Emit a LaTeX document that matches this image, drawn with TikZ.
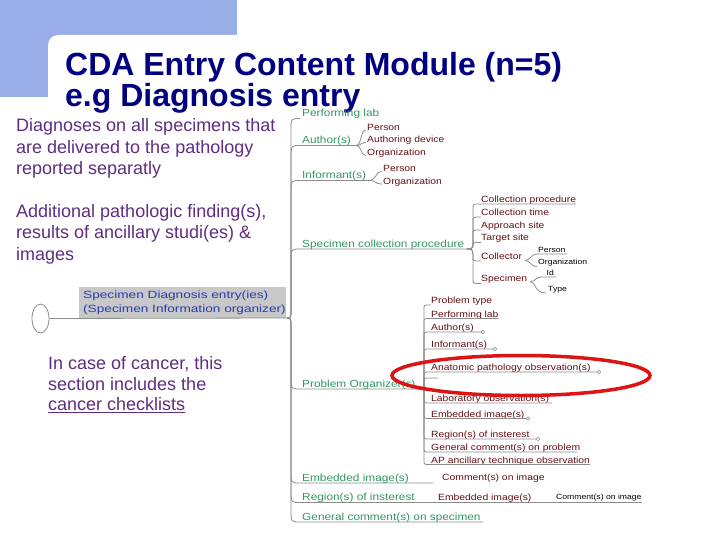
\documentclass[tikz,border=0pt]{standalone}
\usepackage{fontspec}
\setmainfont{Liberation Sans}
\newfontfamily\mapfont[FakeStretch=1.15]{Liberation Sans}
\newfontfamily\boxfont[FakeStretch=1.3]{Liberation Sans}
\usetikzlibrary{shapes.geometric}
\definecolor{bluebg}{RGB}{153,173,230}
\definecolor{navytitle}{RGB}{0,0,128}
\definecolor{purp}{RGB}{95,45,130}
\definecolor{mapgreen}{RGB}{50,150,100}
\definecolor{mapred}{RGB}{100,15,20}
\definecolor{linegray}{RGB}{140,140,140}
\definecolor{boxgray}{RGB}{200,200,200}
\definecolor{boxblue}{RGB}{40,60,170}
\definecolor{ringred}{RGB}{220,20,20}
\begin{document}
\begin{tikzpicture}[x=1pt,y=-1pt,
 titlelbl/.style={anchor=base west,inner sep=0,text=navytitle,font=\fontsize{32}{32}\selectfont\bfseries},
 notelbl/.style={anchor=base west,inner sep=0,text=purp,font=\fontsize{18}{20}\selectfont},
 mainlbl/.style={anchor=base west,inner sep=0,text=mapgreen,font=\mapfont\fontsize{10.3}{11}\selectfont},
 sublbl/.style={anchor=base west,inner sep=0,text=mapred,font=\mapfont\fontsize{9}{10}\selectfont},
 tinylbl/.style={anchor=base west,inner sep=0,text=black,font=\mapfont\fontsize{7.5}{8}\selectfont},
 boxlbl/.style={anchor=base west,inner sep=0,text=boxblue,font=\boxfont\fontsize{10.5}{11}\selectfont},
 branch/.style={draw=linegray,line width=0.8},
 knob/.style={draw=linegray,fill=white,line width=0.6,circle,inner sep=0,minimum size=3.5},
]
\useasboundingbox (0,0) rectangle (720,540);
\fill[white] (0,0) rectangle (720,540);
% header background
\fill[bluebg] (0,0) rectangle (237,97);
\fill[white,rounded corners=10] (48,35) rectangle (740,560);
% title
\node[titlelbl] (t1) at (65,76) {CDA Entry Content Module (n=5)};
\node[titlelbl] (t2) at (65,107) {e.g Diagnosis entry};
% notes
\node[notelbl] (n1) at (16,131.7) {Diagnoses on all specimens that};
\node[notelbl] (n2) at (16,153.2) {are delivered to the pathology};
\node[notelbl] (n3) at (16,174.5) {reported separatly};
\node[notelbl] (n4) at (16,217.3) {Additional pathologic finding(s),};
\node[notelbl] (n5) at (16,238.6) {results of ancillary studi(es) \&};
\node[notelbl] (n6) at (16,260.3) {images};
\node[notelbl] (n7) at (48,369) {In case of cancer, this};
\node[notelbl] (n8) at (48,390.3) {section includes the};
\node[notelbl] (n9) at (48,410.7) {\underline{cancer checklists}};
% root
\node[draw=linegray,line width=0.8,ellipse,minimum width=17,minimum height=29,inner sep=0] (oval) at (40.5,318.5) {};
\coordinate (hub) at (287,318);
\fill[boxgray] (79,287) rectangle (286,318);
\begin{scope}
\clip (79,287) rectangle (286,318);
\node[boxlbl] (b1) at (83,298) {Specimen Diagnosis entry(ies)};
\node[boxlbl] (b2) at (83,312.5) {(Specimen Information organizer)};
\end{scope}
\draw[branch] (oval.east) -- (hub);
% main branches
\foreach \t/\cy/\e [count=\i] in {Performing lab/113/299,Author(s)/140/356,Informant(s)/175/370,Specimen collection procedure/243.5/467,Problem Organizer(s)/383.5/418,Embedded image(s)/477.5/433,Region(s) of insterest/497/642,General comment(s) on specimen/516.5/483}{
  \pgfmathsetmacro\u{\cy+5.5}
  \pgfmathsetmacro\sg{sign(\u-318)}
  \node[mainlbl] (m\i) at (302,\cy+3.7) {\t};
  \coordinate (m\i s) at (300,\u);
  \coordinate (m\i e) at (\e,\u);
  \draw[branch] (hub) .. controls (291,318) .. (291,{318+12*\sg}) -- (291,{\u-12*\sg}) .. controls (291,\u) .. (m\i s) -- (m\i e);
}
% Author(s) children
\foreach \t/\cy [count=\i] in {Person/127,Authoring device/139.5,Organization/152.5}{
  \node[sublbl] (a\i) at (367,\cy+3.2) {\t};
  \coordinate (a\i s) at (366,\cy+3);
  \draw[branch] (m2e) .. controls (362,145.5) and (360,\cy+3) .. (a\i s);
}
% Informant(s) children
\foreach \t/\cy [count=\i] in {Person/168.5,Organization/181}{
  \node[sublbl] (f\i) at (383,\cy+3.2) {\t};
  \coordinate (f\i s) at (382,\cy+3);
  \draw[branch] (m3e) .. controls (376,180.5) and (375,\cy+3) .. (f\i s);
}
% Specimen collection procedure children
\foreach \t/\cy/\e [count=\i] in {Collection procedure/199/576,Collection time/212/481,Approach site/225/481,Target site/237.5/481,Collector/256/481,Specimen/278.5/481}{
  \pgfmathsetmacro\u{\cy+5}
  \pgfmathsetmacro\sg{sign(\u-249)}
  \node[sublbl] (c\i) at (481,\cy+3.2) {\t};
  \coordinate (c\i s) at (480,\u);
  \coordinate (c\i e) at (\e,\u);
  \draw[branch] (m4e) .. controls (472,249) .. (473,{249+5*\sg}) -- (473,{\u-5*\sg}) .. controls (473,\u) .. (c\i s) -- (c\i e);
}
% Collector children
\node[tinylbl] (cp) at (538,252) {Person};
\node[tinylbl] (co) at (538,264.7) {Organization};
\coordinate (cps) at (538,254);
\coordinate (cpe) at (567,254);
\coordinate (cos) at (537,266.5);
\coordinate (cr) at (525,260.5);
\draw[branch] (cr) .. controls (531,260.5) and (530,254) .. (cps) -- (cpe);
\draw[branch] (cr) .. controls (531,260.5) and (530,266.5) .. (cos);
% Specimen children
\node[tinylbl] (si) at (546.5,275.2) {Id};
\node[tinylbl] (st) at (548,291.2) {Type};
\coordinate (sis) at (542,277);
\coordinate (sie) at (556,277);
\coordinate (sts) at (546,293);
\coordinate (sr) at (530,281.5);
\draw[branch] (sr) .. controls (536,281.5) and (535,277) .. (sis) -- (sie);
\draw[branch] (sr) .. controls (536,281.5) and (534,293) .. (sts);
% Problem Organizer(s) children
\foreach \t/\cy/\e/\k [count=\i] in {Problem type/300.5/431/0,Performing lab/314/498/0,Author(s)/327.5/483/1,Informant(s)/344.5/495/1,Anatomic pathology observation(s)/367.5/599/1,{}/373.5/438/0,Laboratory observation(s)/398.5/552/0,Embedded image(s)/414/528/1,Region(s) of insterest/434.5/538/1,General comment(s) on problem/447.5/577/0,AP ancillary technique observation/460/590/0}{
  \pgfmathsetmacro\u{\cy+4.5}
  \pgfmathsetmacro\sg{sign(\u-389)}
  \node[sublbl] (p\i) at (431,\cy+3.2) {\t};
  \coordinate (p\i s) at (430,\u);
  \coordinate (p\i e) at (\e,\u);
  \draw[branch] (m5e) .. controls (424,389) .. (424,{389+4*\sg}) -- (424,{\u-4*\sg}) .. controls (424,\u) .. (p\i s) -- (p\i e);
  \ifnum\k=1 \node[knob] (pk\i) at (p\i e) {};\fi
}
% Embedded image(s) child
\node[sublbl] (ec) at (442,480.7) {Comment(s) on image};
% Region(s) of insterest children
\node[sublbl] (re) at (438,500.5) {Embedded image(s)};
\node[tinylbl] (rc) at (556,499.7) {Comment(s) on image};
% highlight ring
\draw[ringred,line width=3.5] (521,375.5) ellipse [x radius=129,y radius=20];
\end{tikzpicture}
\end{document}
